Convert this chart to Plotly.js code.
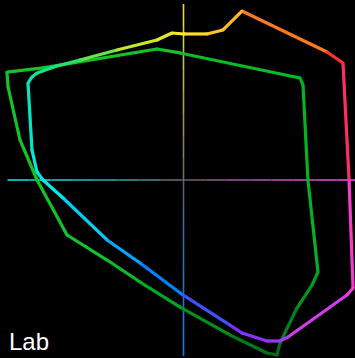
<!DOCTYPE html>
<html>
<head>
<meta charset="utf-8">
<script src="https://cdn.plot.ly/plotly-3.0.1.min.js"></script>
<style>
  html, body { margin: 0; padding: 0; background: #000; }
  #chart { width: 355px; height: 358px; }
</style>
</head>
<body>
<div id="chart"></div>
<script>
// ---- DATA (CIE a*, b* coordinates) ----
// Gamut 1: hue-coloured outline
const gamut1A = [-8.4, 0.4, 17.1, 28.7, 42.5, 104.4, 116.0, 120.4, 123.3, 118.9, 76.0, 70.2, 60.7, 42.5, 33.8, -0.4, -31.6, -55.6, -87.6, -102.2, -106.5, -110.2, -113.1, -110.4, -106.5, -92.0, -75.3, -48.4, -19.3];
const gamut1B = [106.9, 106.2, 106.2, 109.1, 122.9, 93.1, 85.1, 0.0, -78.5, -83.6, -114.2, -117.1, -117.1, -111.3, -105.5, -83.6, -60.4, -43.6, -13.1, 0.0, 5.8, 21.8, 70.5, 74.7, 77.8, 82.9, 87.3, 94.5, 101.8];
// Gamut 2: green outline
const gamut2A = [-128.4, -127.6, -118.9, -106.5, -84.7, -55.6, -31.6, -2.5, 33.8, 60.7, 68.0, 70.2, 82.5, 93.5, 97.8, 90.5, 86.9, 84.7, -2.5, -19.3, -102.2];
const gamut2B = [78.5, 67.6, 29.1, 0.0, -40.0, -58.2, -74.2, -92.4, -112.7, -125.8, -127.3, -118.5, -93.1, -76.4, -66.9, 0.0, 69.1, 74.2, 92.4, 95.3, 81.5];
// Axis extent (a* and b* axes)
const axisStops = [-128, -112, -96, -80, -64, -48, -32, -16, 0, 16, 32, 48, 64, 80, 96, 112, 128];
const cornerLabel = "Lab";

// ---- STYLE ----
const hueStops = [
  [0, 255, 50, 175], [36, 255, 40, 40], [50, 255, 100, 30], [71, 255, 180, 40],
  [90, 255, 232, 50], [110, 190, 235, 40], [135, 40, 222, 110], [150, 0, 230, 190],
  [185, 0, 235, 235], [220, 0, 180, 255], [270, 0, 115, 255], [290, 120, 50, 255],
  [310, 200, 60, 240], [330, 245, 60, 225], [360, 255, 50, 175]
];
function hueRGB(h) {
  h = ((h % 360) + 360) % 360;
  for (let i = 0; i < hueStops.length - 1; i++) {
    const s0 = hueStops[i], s1 = hueStops[i + 1];
    if (h >= s0[0] && h <= s1[0]) {
      const t = (h - s0[0]) / (s1[0] - s0[0]);
      return [0, 1, 2].map(k => s0[k + 1] + (s1[k + 1] - s0[k + 1]) * t);
    }
  }
  return [255, 255, 255];
}
function css(c) { return 'rgb(' + c.map(v => Math.round(v)).join(',') + ')'; }
function hueOf(a, b) { return Math.atan2(b, a) * 180 / Math.PI; }
function greenRGB(a, b) {
  const g = 195 - Math.max(0, -b - 60) * 1.1 - 0.2 * Math.max(0, a);
  return [Math.max(0, (g - 170) * 0.8), g, 40 * g / 195];
}

const traces = [];

// axes with gradient
const axisEnds = { left: [0, 230, 230], right: [235, 70, 230], top: [235, 225, 60], bottom: [0, 125, 255] };
const axisMid = [95, 95, 95];
function mix(c0, c1, t) { return [0, 1, 2].map(k => c0[k] + (c1[k] - c0[k]) * t); }
for (let i = 0; i < axisStops.length - 1; i++) {
  const m = (axisStops[i] + axisStops[i + 1]) / 2;
  const t = Math.pow(Math.abs(m) / 128, 0.8);
  traces.push({ type: 'scatter', mode: 'lines', x: [axisStops[i], axisStops[i + 1]], y: [0, 0],
    line: { color: css(mix(axisMid, m < 0 ? axisEnds.left : axisEnds.right, t)), width: 1.6 },
    hoverinfo: 'skip', showlegend: false });
  traces.push({ type: 'scatter', mode: 'lines', x: [0, 0], y: [axisStops[i], axisStops[i + 1]],
    line: { color: css(mix(axisMid, m < 0 ? axisEnds.bottom : axisEnds.top, t)), width: 1.6 },
    hoverinfo: 'skip', showlegend: false });
}

function addOutline(A, B, colorFn) {
  const n = A.length;
  const vc = [];
  for (let i = 0; i < n; i++) {
    const j = (i + 1) % n;
    const ma = (A[i] + A[j]) / 2, mb = (B[i] + B[j]) / 2;
    traces.push({ type: 'scatter', mode: 'lines', x: [A[i], A[j]], y: [B[i], B[j]],
      line: { color: css(colorFn(ma, mb)), width: 3.2 }, hoverinfo: 'skip', showlegend: false });
    vc.push(css(colorFn(A[i], B[i])));
  }
  traces.push({ type: 'scatter', mode: 'markers', x: A, y: B,
    marker: { color: vc, size: 3.2, line: { width: 0 } }, hoverinfo: 'skip', showlegend: false });
}
addOutline(gamut2A, gamut2B, greenRGB);
addOutline(gamut1A, gamut1B, (a, b) => hueRGB(hueOf(a, b)));

const s = 1.375, cx = 183.5, cy = 180;
const layout = {
  width: 355, height: 358,
  margin: { l: 0, r: 0, t: 0, b: 0, pad: 0 },
  paper_bgcolor: '#000', plot_bgcolor: '#000',
  xaxis: { range: [(0 - cx) / s, (355 - cx) / s], visible: false, fixedrange: true },
  yaxis: { range: [(cy - 358) / s, (cy - 0) / s], visible: false, fixedrange: true },
  showlegend: false,
  annotations: [{
    text: cornerLabel, xref: 'paper', yref: 'paper', x: 8 / 355, y: 2 / 358,
    xanchor: 'left', yanchor: 'bottom', showarrow: false, borderpad: 0,
    font: { family: 'Liberation Sans, Arial, sans-serif', size: 24, color: '#ffffff' }
  }]
};
Plotly.newPlot('chart', traces, layout, { displayModeBar: false, staticPlot: true });
</script>
</body>
</html>
